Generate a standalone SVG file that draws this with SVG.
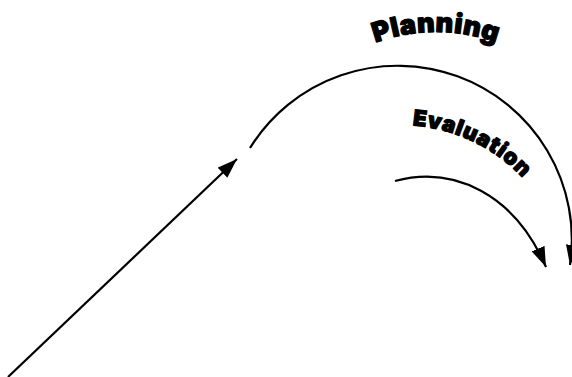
<svg xmlns="http://www.w3.org/2000/svg" width="572" height="377" viewBox="0 0 572 377">
<style>
.c{fill:none;stroke:#000;stroke-width:2.2}
.t{font-family:"Inter","DejaVu Sans",sans-serif;font-weight:900;fill:#000;stroke:#000;stroke-width:1.2;stroke-linejoin:round}
</style>
<defs>
<marker id="ah" viewBox="0 0 20 14" refX="20" refY="7" markerWidth="20" markerHeight="14" markerUnits="userSpaceOnUse" orient="auto">
<path d="M0,0 L20,7 L0,14 z" fill="#000"/>
</marker>
<path id="pPlan" d="M257,211 A179 179 0 0 1 615,211"/>
<path id="pEval" d="M343.6,134.7 A169 169 0 0 1 559.3,237.6"/>
</defs>
<g id="connectors">
<path class="c" d="M8,377 L237,159" marker-end="url(#ah)"/>
<path class="c" d="M250,148 A174 174 0 0 1 570,265" marker-end="url(#ah)"/>
<path class="c" d="M395,181 C455,165 515,195 546,267" marker-end="url(#ah)"/>
</g>
<g id="planning">
<text class="t" font-size="27" letter-spacing="0.5"><textPath href="#pPlan" startOffset="50%" text-anchor="middle">Planning</textPath></text>
</g>
<g id="evaluation">
<text class="t" font-size="22" letter-spacing="0.8"><textPath href="#pEval" startOffset="50%" text-anchor="middle">Evaluation</textPath></text>
</g>
</svg>
